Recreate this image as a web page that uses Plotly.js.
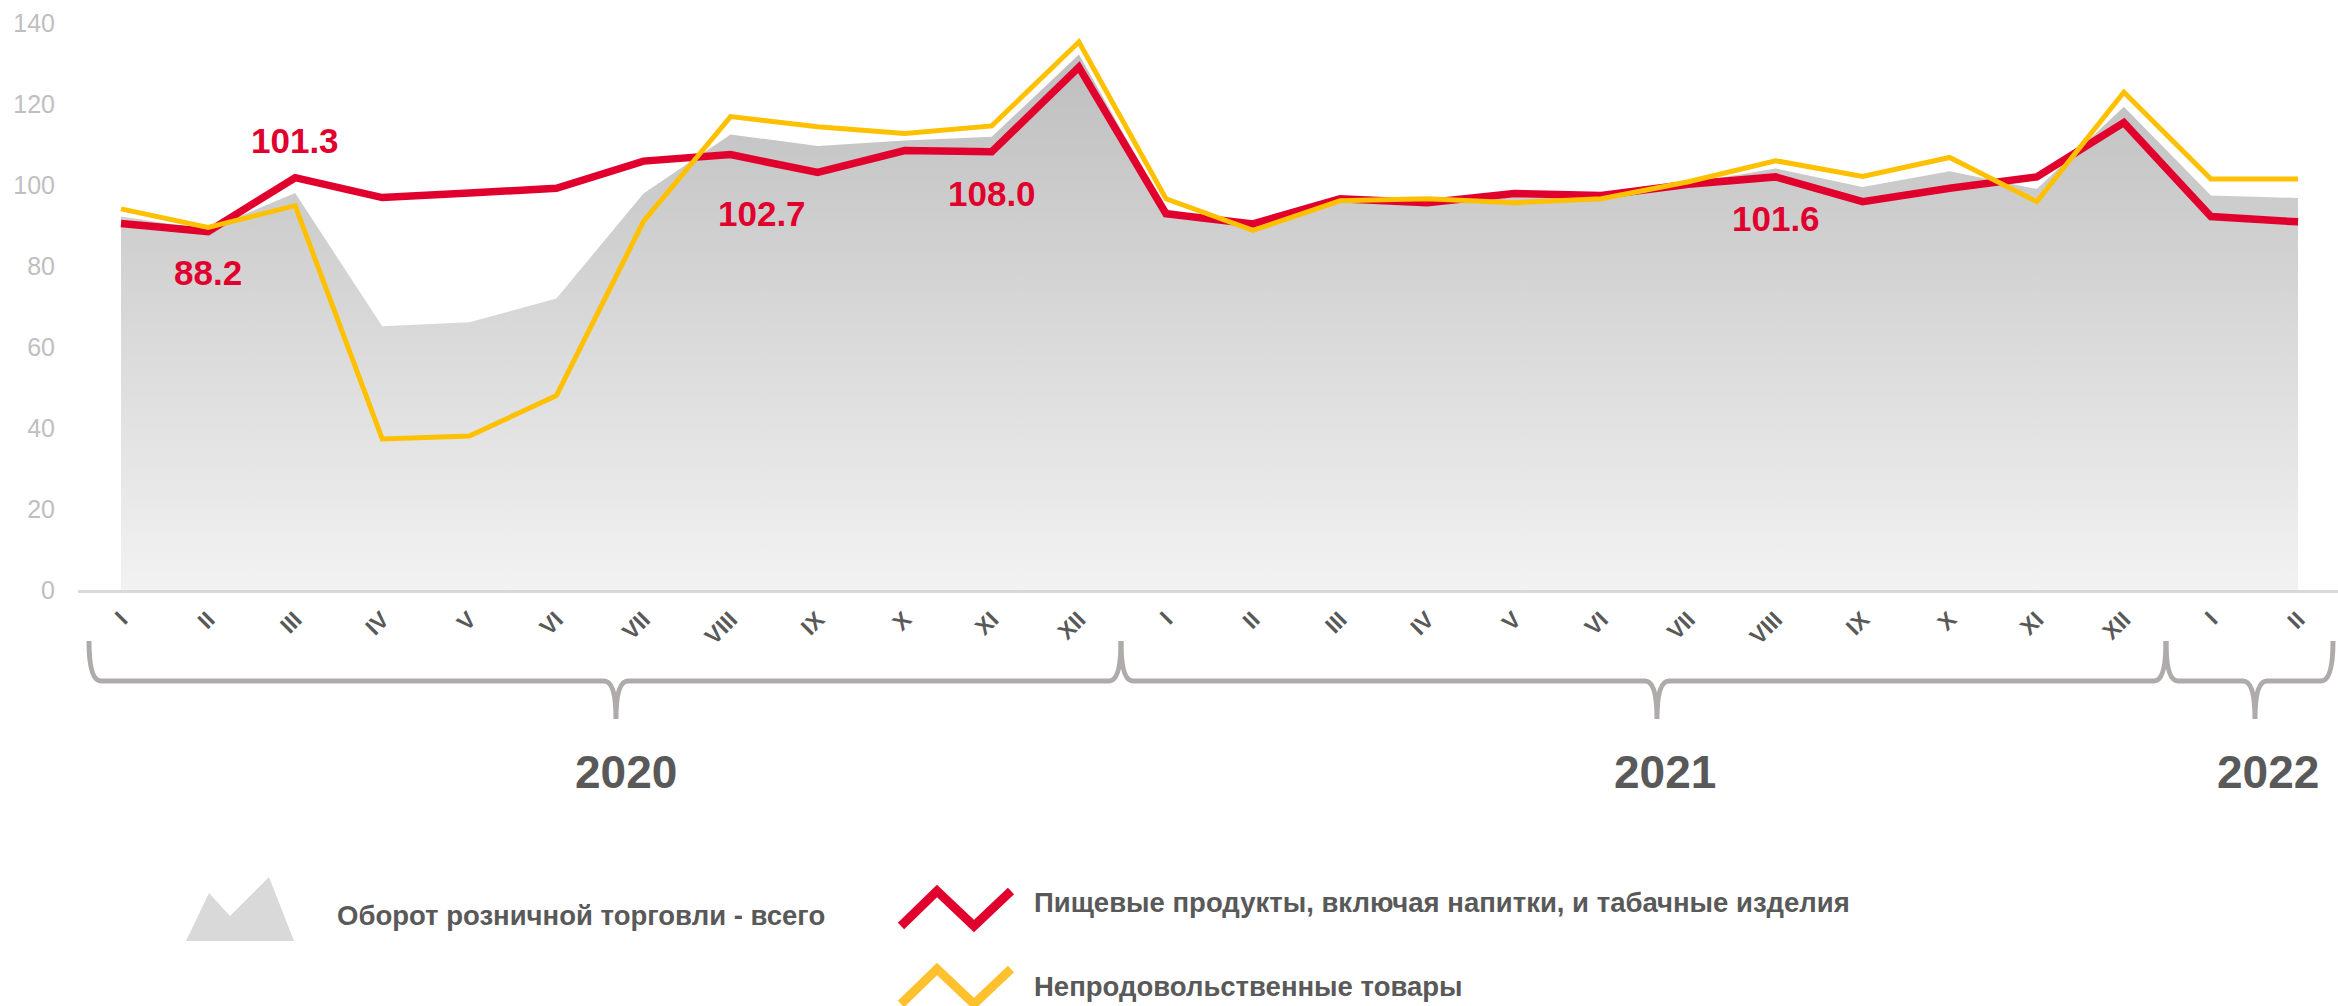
<!DOCTYPE html>
<html>
<head>
<meta charset="utf-8">
<script src="https://cdn.plot.ly/plotly-3.0.1.min.js"></script>
<style>html,body{margin:0;padding:0;background:#fff;}#chart{width:2338px;height:1006px;}</style>
</head>
<body>
<div id="chart"></div>
<script>
// ---------------- data ----------------
const monthLabels = ["I","II","III","IV","V","VI","VII","VIII","IX","X","XI","XII",
                     "I","II","III","IV","V","VI","VII","VIII","IX","X","XI","XII",
                     "I","II"];
const years = ["2020","2021","2022"];
// Оборот розничной торговли - всего
const totalRetail = [92.2, 89.0, 98.0, 65.1, 66.1, 72.0, 97.9, 112.5, 109.6, 111.0, 111.9, 132.2,
                     94.1, 89.8, 96.6, 96.6, 97.0, 97.0, 100.5, 104.1, 99.5, 103.4, 99.0, 119.3,
                     97.4, 96.8];
// Пищевые продукты, включая напитки, и табачные изделия
const foodGoods = [90.5, 88.5, 101.8, 96.9, 98.0, 99.2, 105.9, 107.5, 103.1, 108.5, 108.2, 129.1,
                   92.9, 90.4, 96.6, 95.6, 97.9, 97.4, 100.2, 102.0, 95.9, 99.2, 102.0, 115.4,
                   92.2, 90.9];
// Непродовольственные товары
const nonFoodGoods = [94.1, 89.5, 94.9, 37.3, 38.0, 48.0, 91.0, 116.9, 114.4, 112.7, 114.6, 135.3,
                      96.6, 88.8, 96.1, 96.6, 95.6, 96.6, 100.8, 106.0, 102.1, 106.8, 95.9, 122.9,
                      101.5, 101.5];
const seriesNames = ["Оборот розничной торговли - всего",
                     "Пищевые продукты, включая напитки, и табачные изделия",
                     "Непродовольственные товары"];
const calloutTexts = ["88.2", "101.3", "102.7", "108.0", "101.6"];
const yTickVals = [0, 20, 40, 60, 80, 100, 120, 140];

// ---------------- styling / layout ----------------
const NARROW = '"Liberation Sans Narrow", "Arial Narrow", "Liberation Sans", Arial, sans-serif';
const SANS = '"Liberation Sans", Arial, sans-serif';
const RED = '#e1002d', YELLOW = '#ffc000', DARK = '#595959', BRACE = '#afabab';

const W = 2338, H = 1006;
const M = {l: 78, r: 0, t: 23, b: 416};
const PW = W - M.l - M.r, PH = H - M.t - M.b;
const px = x => (x - M.l) / PW;          // pixel -> paper
const py = y => (H - M.b - y) / PH;

const xIdx = monthLabels.map((_, i) => i);

const traces = [
  {
    x: xIdx, y: totalRetail, name: seriesNames[0], type: 'scatter', mode: 'lines',
    line: {width: 0, color: 'rgba(0,0,0,0)'},
    fill: 'tozeroy',
    fillgradient: {type: 'vertical', start: 0, stop: 135,
                   colorscale: [[0, '#f2f2f2'], [1, '#bdbdbd']]},
    hoverinfo: 'skip'
  },
  {
    x: xIdx, y: foodGoods, name: seriesNames[1], type: 'scatter', mode: 'lines',
    line: {width: 7.5, color: RED}
  },
  {
    x: xIdx, y: nonFoodGoods, name: seriesNames[2], type: 'scatter', mode: 'lines',
    line: {width: 5, color: YELLOW}
  }
];

// callout positions (category position, value position)
const calloutPos = [[1, 78.5], [2, 111], [7.36, 93], [10, 98], [19, 91.7]];
const annotations = calloutTexts.map((t, i) => ({
  text: t, x: calloutPos[i][0], y: calloutPos[i][1], xref: 'x', yref: 'y',
  showarrow: false, xanchor: 'center', yanchor: 'middle',
  font: {family: SANS, size: 35, color: RED, weight: 'bold'}
}));

// year labels
const yearX = [626, 1665, 2268];
years.forEach((yr, i) => annotations.push({
  text: '<b>' + yr + '</b>', xref: 'paper', yref: 'paper', x: px(yearX[i]), y: py(772),
  showarrow: false, xanchor: 'center', yanchor: 'middle',
  font: {family: SANS, size: 46, color: DARK}
}));

// legend texts
const legendText = [[335, 915], [1032, 902], [1032, 986]];
seriesNames.forEach((nm, i) => annotations.push({
  text: '<b>' + nm + '</b>', xref: 'paper', yref: 'paper',
  x: px(legendText[i][0]), y: py(legendText[i][1]),
  showarrow: false, xanchor: 'left', yanchor: 'middle',
  font: {family: NARROW, size: 27.5, color: DARK}
}));

// shapes: braces + legend icons
function P(x, y) { return px(x).toFixed(5) + ',' + py(y).toFixed(5); }
function brace(x0, c, x1) {
  const yt = 641, yh = 681, yb = 719, r = 12;
  return 'M' + P(x0, yt) + ' Q' + P(x0, yh) + ' ' + P(x0 + r, yh) +
         ' L' + P(c - r, yh) + ' Q' + P(c, yh) + ' ' + P(c, yb) +
         ' Q' + P(c, yh) + ' ' + P(c + r, yh) +
         ' L' + P(x1 - r, yh) + ' Q' + P(x1, yh) + ' ' + P(x1, yt);
}
const braces = [[89, 616, 1121], [1121, 1657, 2166], [2166, 2255, 2333]];
const shapes = braces.map(b => ({
  type: 'path', xref: 'paper', yref: 'paper', path: brace(b[0], b[1], b[2]),
  line: {color: BRACE, width: 5}
}));
// grey mountain icon
shapes.push({
  type: 'path', xref: 'paper', yref: 'paper',
  path: 'M' + P(186, 941) + ' L' + P(209, 893) + ' L' + P(230, 916) + ' L' + P(269, 877) +
        ' L' + P(294, 941) + ' Z',
  fillcolor: '#d9d9d9', line: {width: 0}
});
function zig(y0, yTop) {
  return 'M' + P(901, y0) + ' L' + P(937, yTop) + ' L' + P(974, y0) + ' L' + P(1011, yTop);
}
shapes.push({type: 'path', xref: 'paper', yref: 'paper', path: zig(926, 891),
             line: {color: RED, width: 9}});
shapes.push({type: 'path', xref: 'paper', yref: 'paper', path: zig(1004, 969),
             line: {color: '#ffc12e', width: 9}});

const layout = {
  width: W, height: H,
  margin: M,
  paper_bgcolor: '#ffffff', plot_bgcolor: '#ffffff',
  showlegend: false,
  xaxis: {
    range: [-0.4938, 25.459], tickvals: xIdx, ticktext: monthLabels,
    tickangle: -45, ticks: '', showgrid: false, zeroline: false,
    showline: true, linecolor: '#d9d9d9', linewidth: 3,
    tickfont: {family: NARROW, size: 23, color: DARK, weight: 'bold'},
    ticklabelstandoff: 4
  },
  yaxis: {
    range: [0, 140], tickvals: yTickVals, ticks: '', showgrid: false, zeroline: false,
    showline: false,
    tickfont: {family: NARROW, size: 25, color: '#bfbfbf'},
    ticklabelstandoff: 22
  },
  annotations: annotations,
  shapes: shapes
};

Plotly.newPlot('chart', traces, layout, {staticPlot: true, displayModeBar: false});
</script>
</body>
</html>
